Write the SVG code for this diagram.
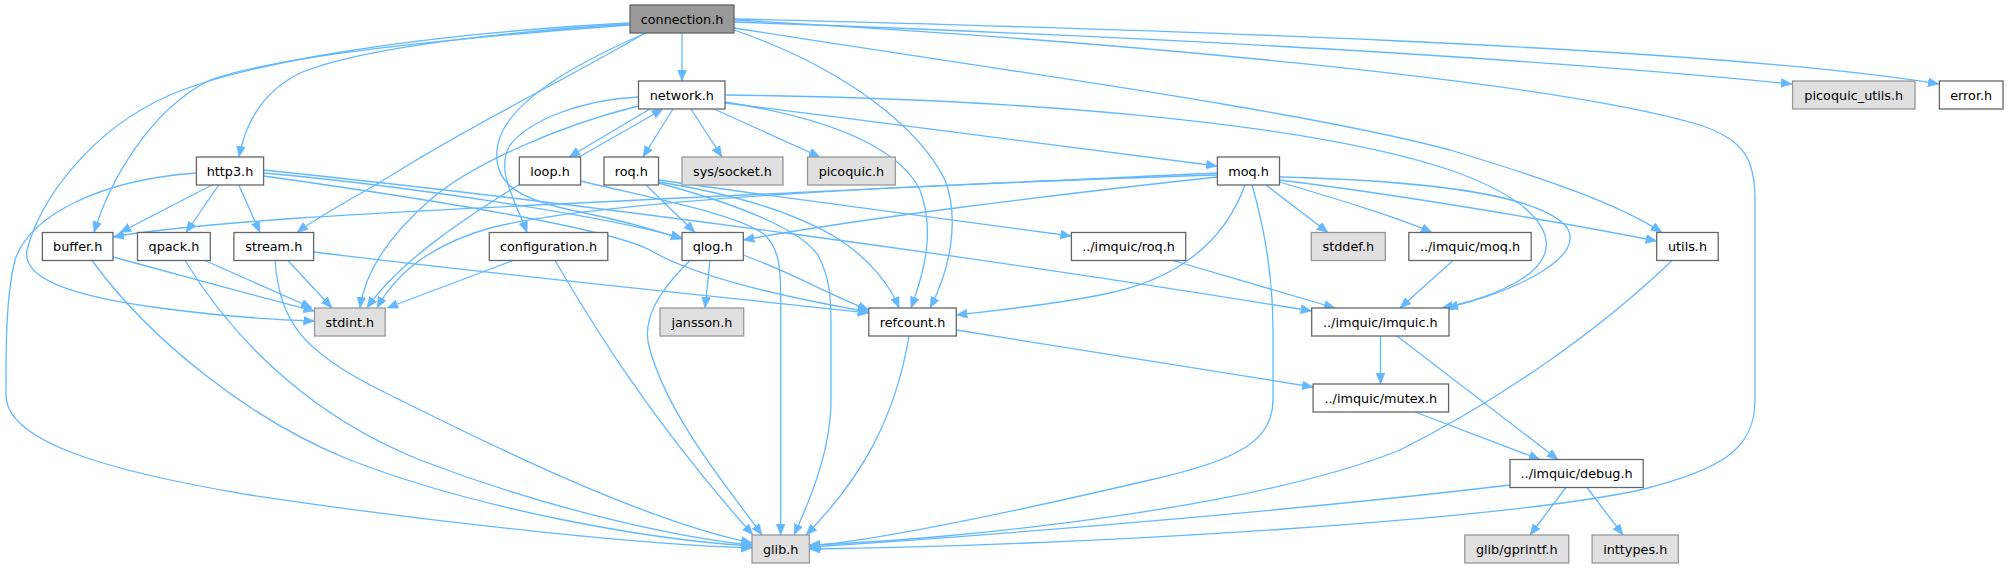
<svg xmlns="http://www.w3.org/2000/svg" width="2008" height="568" viewBox="0 0 2008 568">
<style>
text{font-family:"DejaVu Sans","Liberation Sans",sans-serif;font-size:12.8px;fill:#000;text-anchor:middle}
.n rect{fill:#fff;stroke:#666;stroke-width:1.3}
.g rect{fill:#e0e0e0;stroke:#999;stroke-width:1.3}
.r rect{fill:#999;stroke:#666;stroke-width:1.3}
#edges path{fill:none;stroke:#63b8ff;stroke-width:1.3;marker-end:url(#a)}
</style>
<defs>
<marker id="a" markerWidth="12" markerHeight="10" refX="11" refY="4.5" orient="auto" markerUnits="userSpaceOnUse"><path d="M0,0 L11,4.5 L0,9 z" fill="#63b8ff" stroke="#63b8ff" stroke-width="0.5"/></marker>
</defs>
<rect x="0" y="0" width="2008" height="568" fill="#fff"/>
<g id="edges">
<path d="M682,33 L682,81"/>
<path d="M629.5,24 C500,32 360,48 300,73 C262,92 245,125 239,157"/>
<path d="M629.5,25 C450,38 280,55 210,80 C150,110 110,180 94,232.5"/>
<path d="M629.5,23 C400,35 240,65 170,95 C90,130 40,200 27,250 C20,285 100,300 160,308 C220,316 280,320 314.5,321"/>
<path d="M645,33 C580,72 480,120 400,170 C360,195 320,215 297,232.5"/>
<path d="M646,33 C560,70 500,110 497,150 C494,185 520,200 580,212 C620,220 655,230 682,239"/>
<path d="M734,30 C850,70 920,130 945,180 C960,220 950,270 930,308"/>
<path d="M734,28 C1000,70 1300,110 1450,150 C1550,180 1620,205 1662,232.5"/>
<path d="M734,20 C1100,40 1550,80 1700,125 C1745,140 1755,160 1755,200 L1755,400 C1755,450 1720,470 1640,490 C1500,520 1100,545 809.4,549"/>
<path d="M734,22 C1100,35 1500,55 1792,84"/>
<path d="M734,19 C1100,28 1700,45 1939,84"/>
<path d="M650,109 L569,157"/>
<path d="M579,157 L663,109"/>
<path d="M673,109 L643,157"/>
<path d="M691,109 L722,157"/>
<path d="M714,109 L820,157"/>
<path d="M725,103 C900,125 1100,150 1217,166"/>
<path d="M725,95 C1000,98 1300,120 1450,170 C1550,205 1570,250 1520,280 C1495,295 1470,302 1442,308"/>
<path d="M638.5,106 C560,125 470,165 430,200 C390,235 365,270 360,308"/>
<path d="M638.5,97 C580,100 530,120 510,145 C495,170 515,200 527,232.5"/>
<path d="M725,102 C840,120 900,150 920,190 C935,230 925,270 911,308"/>
<path d="M212,185 L120,232.5"/>
<path d="M218.75,185 L186,232.5"/>
<path d="M238.8,185 L260,232.5"/>
<path d="M196.4,173 C100,180 30,215 15,260 C5,300 6,360 6,395 C6,440 100,470 250,495 C450,525 650,545 752,548"/>
<path d="M263.6,173 C400,185 600,215 682,238"/>
<path d="M263.6,176 C400,195 600,225 650,250 C700,280 800,300 868.8,312"/>
<path d="M263.6,170 C600,205 1000,260 1311.7,311"/>
<path d="M520,184 C470,215 400,260 367,308"/>
<path d="M580.6,181 C660,200 740,215 765,235 C780,250 780.7,270 780.7,300 L780.7,535"/>
<path d="M646,185 L695,232.5"/>
<path d="M658.5,180 C800,200 950,220 1071.4,236"/>
<path d="M658.5,182 C740,195 800,215 840,240 C870,260 890,285 899,308"/>
<path d="M658.5,183 C740,205 800,230 818,255 C831,280 831,300 831,330 L831,400 C831,450 810,500 794,535"/>
<path d="M1217.4,173 C900,188 500,205 300,218 C200,225 150,230 113,237"/>
<path d="M1217.4,175 C900,185 600,200 490,228 C430,245 395,275 377,308"/>
<path d="M1217.4,177 C1050,195 850,220 743.3,240"/>
<path d="M1245,185 C1225,240 1180,280 1100,295 C1050,305 1000,310 956.3,315"/>
<path d="M1252,185 C1265,230 1273,280 1273,330 L1273,400 C1273,440 1240,460 1150,480 C1000,515 880,540 809.4,546"/>
<path d="M1266,185 L1328,232.5"/>
<path d="M1279.5,182 C1340,200 1400,218 1432,232.5"/>
<path d="M1279.5,180 C1400,195 1550,220 1656.7,241"/>
<path d="M1279.5,177 C1400,180 1530,190 1565,225 C1590,255 1520,290 1447,308"/>
<path d="M1173,260.5 L1335,308"/>
<path d="M1453,260.5 L1400,308"/>
<path d="M1672,260.5 C1600,330 1500,400 1400,450 C1250,510 950,540 809.4,545"/>
<path d="M1380.5,336 L1380.5,384"/>
<path d="M1397,336 L1558,459.5"/>
<path d="M1415,412 L1540,459.5"/>
<path d="M956.3,330 L1313,387"/>
<path d="M909,336 C895,420 860,480 806,535"/>
<path d="M1510,485 C1300,510 1000,535 809.4,547"/>
<path d="M1566,487.5 L1530,535"/>
<path d="M1587,487.5 L1623,535"/>
<path d="M710,260.5 L705,308"/>
<path d="M690,260.5 C660,290 640,320 650,350 C670,420 730,490 762,535"/>
<path d="M743.3,255 C790,272 830,295 868.8,310"/>
<path d="M113,257 C180,275 270,300 314.5,311"/>
<path d="M205,260.5 L312,308"/>
<path d="M92,260.5 C150,340 250,420 350,460 C480,510 650,540 752,546"/>
<path d="M185,260.5 C240,350 320,420 420,460 C550,510 680,538 752,545"/>
<path d="M288,260.5 L332,308"/>
<path d="M275,260.5 C280,320 300,350 380,390 C480,440 640,520 752,543"/>
<path d="M313.6,252 C500,275 750,300 868.8,313"/>
<path d="M513,260.5 L387,308"/>
<path d="M555,260.5 C590,320 650,420 753,535"/>
</g>
<g id="connection" class="r"><rect x="630" y="5" width="104" height="28"/><text x="682" y="23.7">connection.h</text></g>
<g id="network" class="n"><rect x="638.5" y="81" width="86.5" height="28"/><text x="681.75" y="99.7">network.h</text></g>
<g id="picoquic_utils" class="g"><rect x="1792.6" y="81" width="122.4" height="28"/><text x="1853.8" y="99.7">picoquic_utils.h</text></g>
<g id="error" class="n"><rect x="1939.4" y="81" width="63.6" height="28"/><text x="1971.2" y="99.7">error.h</text></g>
<g id="http3" class="n"><rect x="196.4" y="157" width="67.2" height="28"/><text x="230" y="175.7">http3.h</text></g>
<g id="loop" class="n"><rect x="519.3" y="157" width="61.3" height="28"/><text x="550" y="175.7">loop.h</text></g>
<g id="roq" class="n"><rect x="604" y="157" width="54.5" height="28"/><text x="631.25" y="175.7">roq.h</text></g>
<g id="socket" class="g"><rect x="682" y="157" width="101" height="28"/><text x="732.5" y="175.7">sys/socket.h</text></g>
<g id="picoquic" class="g"><rect x="807.5" y="157" width="87.8" height="28"/><text x="851.4" y="175.7">picoquic.h</text></g>
<g id="moq" class="n"><rect x="1217.4" y="157" width="62.1" height="28"/><text x="1248.5" y="175.7">moq.h</text></g>
<g id="buffer" class="n"><rect x="42.4" y="232.5" width="70.6" height="28"/><text x="77.7" y="251.2">buffer.h</text></g>
<g id="qpack" class="n"><rect x="137.5" y="232.5" width="72.8" height="28"/><text x="173.9" y="251.2">qpack.h</text></g>
<g id="stream" class="n"><rect x="233.9" y="232.5" width="79.7" height="28"/><text x="273.75" y="251.2">stream.h</text></g>
<g id="configuration" class="n"><rect x="489.3" y="232.5" width="118.5" height="28"/><text x="548.5" y="251.2">configuration.h</text></g>
<g id="qlog" class="n"><rect x="682" y="232.5" width="61.3" height="28"/><text x="712.6" y="251.2">qlog.h</text></g>
<g id="imquic_roq" class="n"><rect x="1071.4" y="232.5" width="114.3" height="28"/><text x="1128.5" y="251.2">../imquic/roq.h</text></g>
<g id="stddef" class="g"><rect x="1311.3" y="232.5" width="74" height="28"/><text x="1348.3" y="251.2">stddef.h</text></g>
<g id="imquic_moq" class="n"><rect x="1408.8" y="232.5" width="122.4" height="28"/><text x="1470" y="251.2">../imquic/moq.h</text></g>
<g id="utils" class="n"><rect x="1656.7" y="232.5" width="61.5" height="28"/><text x="1687.5" y="251.2">utils.h</text></g>
<g id="stdint" class="g"><rect x="314.5" y="308" width="70.7" height="28"/><text x="349.9" y="326.7">stdint.h</text></g>
<g id="jansson" class="g"><rect x="660" y="308" width="83.7" height="28"/><text x="701.9" y="326.7">jansson.h</text></g>
<g id="refcount" class="n"><rect x="868.8" y="308" width="87.5" height="28"/><text x="912.5" y="326.7">refcount.h</text></g>
<g id="imquic" class="n"><rect x="1311.7" y="308" width="137.3" height="28"/><text x="1380.3" y="326.7">../imquic/imquic.h</text></g>
<g id="mutex" class="n"><rect x="1313.1" y="384" width="135.5" height="28"/><text x="1380.8" y="402.7">../imquic/mutex.h</text></g>
<g id="debug" class="n"><rect x="1510" y="459.5" width="133.2" height="28"/><text x="1576.6" y="478.2">../imquic/debug.h</text></g>
<g id="glib" class="g"><rect x="752" y="535" width="57.4" height="28"/><text x="780.7" y="553.7">glib.h</text></g>
<g id="gprintf" class="g"><rect x="1464.8" y="535" width="103.9" height="28"/><text x="1516.7" y="553.7">glib/gprintf.h</text></g>
<g id="inttypes" class="g"><rect x="1592.1" y="535" width="86.3" height="28"/><text x="1635.2" y="553.7">inttypes.h</text></g>
</svg>
